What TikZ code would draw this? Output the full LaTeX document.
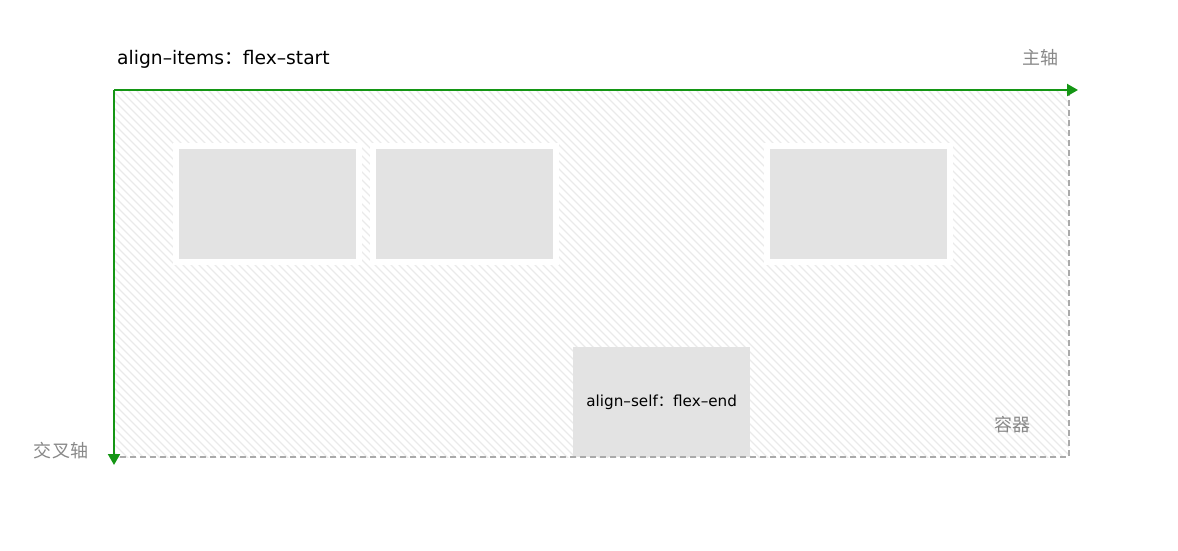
\documentclass[tikz,border=0pt]{standalone}
\usepackage{fontspec}
\setmainfont{DejaVu Sans}
\newfontfamily\cjk{Noto Sans CJK SC}
\usetikzlibrary{arrows.meta}

\definecolor{axisgreen}{RGB}{20,150,20}
\definecolor{itemgray}{RGB}{227,227,227}
\definecolor{hatchgray}{RGB}{234,234,234}
\definecolor{labelgray}{RGB}{136,136,136}
\definecolor{borderdash}{RGB}{170,170,170}

\begin{document}
\begin{tikzpicture}[
    x = 1pt, y = -1pt,
    item/.style = {rectangle, anchor=north west, inner sep=0pt, minimum width=177pt, minimum height=110pt, fill=itemgray},
    spaced/.style = {preaction={draw=white, line width=12pt}},
    hatch/.style = {draw=hatchgray, line width=1.2pt},
    axis/.style = {draw=axisgreen, line width=2pt, -{Triangle[length=11pt, width=12pt]}},
    dashline/.style = {draw=borderdash, line width=1.5pt, dash pattern=on 6pt off 4pt},
    axislabel/.style = {text=labelgray, font=\cjk\fontsize{18}{20}\selectfont}
]
    \useasboundingbox (0,0) rectangle (1178,551);

% Container
    \coordinate (origin) at (114,90);
    \coordinate (topright) at (1069,90);
    \coordinate (bottomright) at (1069,457);
    \coordinate (bottomleft) at (114,457);
    \begin{scope}
        \clip (origin) rectangle (bottomright);
        \foreach \i in {-376,-368,...,1072}
            \draw[hatch] (\i,90) -- ++(380,380);
    \end{scope}

% Items
    \node[item, spaced] (item1) at (179,149) {};
    \node[item, spaced] (item2) at (376,149) {};
    \node[item, spaced] (item3) at (770,149) {};
    \node[item] (item4) at (573,347) {};
    \node[font=\fontsize{15.2}{17}\selectfont] (selflabel) at (item4.center) {align–self{\cjk ：}flex–end};

% Border
    \draw[dashline] (topright) -- (bottomright) -- (bottomleft);

% Axes
    \coordinate (mainend) at (1078,90);
    \coordinate (crossend) at (114,465);
    \draw[axis] (origin) -- (mainend);
    \draw[axis] (origin) -- (crossend);

% Labels
    \node[anchor=base west, inner sep=0pt, font=\fontsize{18.7}{21}\selectfont] (title) at (117,65) {align–items{\cjk ：}flex–start};
    \node[axislabel] (mainlabel) at (1040,58) {主轴};
    \node[axislabel] (crosslabel) at (61,451) {交叉轴};
    \node[axislabel] (boxlabel) at (1012,425) {容器};
\end{tikzpicture}
\end{document}
